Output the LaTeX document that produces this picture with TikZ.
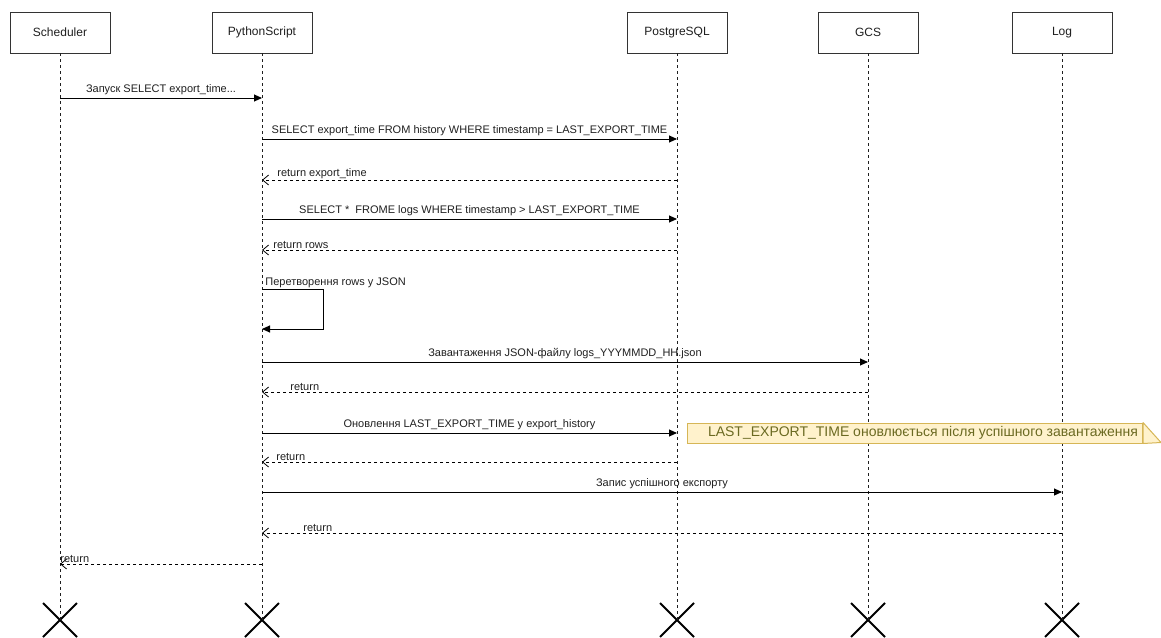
\documentclass[tikz,border=0pt]{standalone}
\usepackage{fontspec}
\setmainfont{Liberation Sans}
\usetikzlibrary{arrows.meta, positioning, shapes.misc}
\definecolor{DarkText}{HTML}{1F1F1F}
\definecolor{BoxLine}{HTML}{333333}
\definecolor{NoteFill}{HTML}{FFF2CC}
\definecolor{NoteLine}{HTML}{D6B656}
\definecolor{NoteText}{HTML}{6B6A22}

\tikzset{
  actor/.style={draw=BoxLine, fill=white, line width=0.9pt,
    minimum width=100pt, minimum height=41pt,
    font=\fontsize{12}{14}\selectfont, text=DarkText},
  lifeline/.style={draw=DarkText, line width=0.8pt, dash pattern=on 3pt off 3pt},
  msg/.style={draw=black, line width=0.9pt, -{Triangle[length=8pt,width=7pt]}},
  ret/.style={draw=black, line width=0.8pt, dash pattern=on 3pt off 3pt,
    -{Straight Barb[length=6pt,width=10pt,line width=0.8pt]}},
  lbl/.style={font=\fontsize{11}{13}\selectfont, text=DarkText, inner sep=1pt},
  kill/.style={draw=black, cross out, line width=2pt, minimum size=32pt, inner sep=0pt},
  note/.style={draw=NoteLine, fill=NoteFill, line width=1pt, minimum height=20pt,
    font=\fontsize{14}{16}\selectfont, text=NoteText, inner sep=0pt}
}

\begin{document}
\begin{tikzpicture}[x=1pt, y=-1pt]
  \useasboundingbox (0,0) rectangle (1161,637);

  % participants
  \node[actor] (sch) at (60,32.5)   {Scheduler};
  \node[actor] (py)  at (262,32.5)  {PythonScript};
  \node[actor] (pg)  at (677,32.5)  {PostgreSQL};
  \node[actor] (gcs) at (868,32.5)  {GCS};
  \node[actor] (log) at (1062,32.5) {Log};

  % end marks and lifelines
  \foreach \p in {sch,py,pg,gcs,log} {
    \node[kill] (x-\p) at (\p |- 0,620) {};
    \draw[lifeline] (\p.south) -- (x-\p.center);
  }

  % message rows
  \foreach \n/\y in {1/98, 2/139, 3/180, 4/219, 5/250, 6/289, 6b/329,
                     7/362, 8/392, 9/433, 10/462, 11/492, 12/533, 13/564}
    \coordinate (m\n) at (0,\y);

  \draw[msg] (sch |- m1) -- node[lbl, above=2pt] {Запуск SELECT export\_time...} (py |- m1);
  \draw[msg] (py |- m2) -- node[lbl, above=2pt]
    {SELECT export\_time FROM history WHERE timestamp = LAST\_EXPORT\_TIME} (pg |- m2);
  \draw[ret] (pg |- m3) -- (py |- m3) node[lbl, above right, xshift=14pt] {return export\_time};
  \draw[msg] (py |- m4) -- node[lbl, above=2pt]
    {SELECT *~ FROME logs WHERE timestamp > LAST\_EXPORT\_TIME} (pg |- m4);
  \draw[ret] (pg |- m5) -- (py |- m5) node[lbl, above right, xshift=10pt] {return rows};

  % self call
  \draw[msg] (py |- m6) node[lbl, above right, xshift=2pt] {Перетворення rows у JSON}
    -- ++(61,0) |- (py |- m6b);

  \draw[msg] (py |- m7) -- node[lbl, above=2pt]
    {Завантаження JSON-файлу logs\_YYYMMDD\_HH.json} (gcs |- m7);
  \draw[ret] (gcs |- m8) -- (py |- m8) node[lbl, above right, xshift=27pt] {return};
  \draw[msg] (py |- m9) -- node[lbl, above=2pt]
    {Оновлення LAST\_EXPORT\_TIME у export\_history} (pg |- m9);
  \draw[ret] (pg |- m10) -- (py |- m10) node[lbl, above right, xshift=13pt] {return};
  \draw[msg] (py |- m11) -- node[lbl, above=2pt] {Запис успішного експорту} (log |- m11);
  \draw[ret] (log |- m12) -- (py |- m12) node[lbl, above right, xshift=40pt] {return};
  \draw[ret] (py |- m13) -- (sch |- m13) node[lbl, above right, xshift=-1pt] {return};

  % note
  \node[note, anchor=west, minimum width=455pt] (memo) at ([xshift=10pt]pg |- m9)
    {\hspace*{16pt}LAST\_EXPORT\_TIME оновлюється після успішного завантаження};
  \filldraw[draw=NoteLine, fill=NoteFill, line width=1pt, line join=round]
    (memo.north east) -- ++(18,20) -- (memo.south east) -- cycle;
\end{tikzpicture}
\end{document}
